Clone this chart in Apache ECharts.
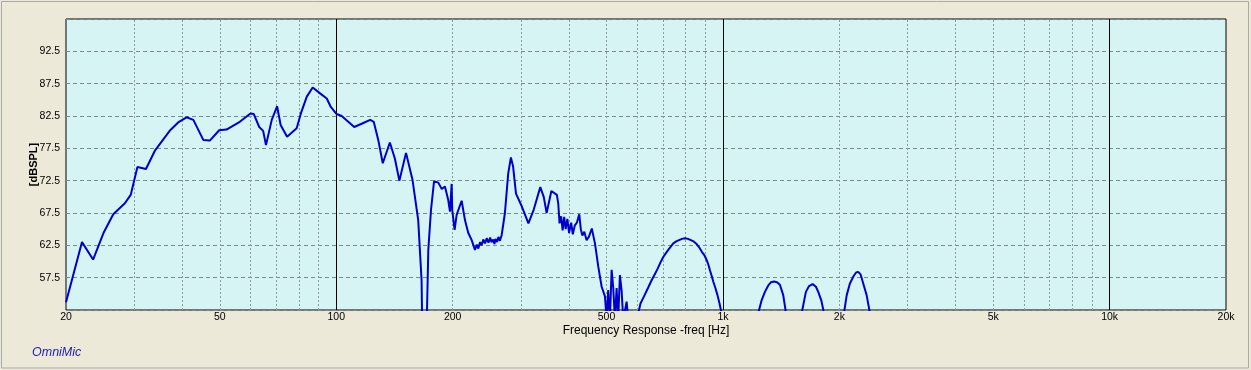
<!DOCTYPE html>
<html>
<head>
<meta charset="utf-8">
<script src="https://cdn.jsdelivr.net/npm/echarts@6/dist/echarts.min.js"></script>
<style>
html,body{margin:0;padding:0;background:#ece9d8;}
#c{width:1251px;height:370px;}
</style>
</head>
<body>
<div id="c"></div>
<script>
// ---- data ----
const freqHz = [
  20.0, 22.0, 23.5, 25.0, 26.5, 28.4, 29.4, 30.6, 32.2, 34.0,
  37.2, 39.0, 41.0, 42.7, 45.3, 47.1, 49.8, 52.0, 56.3, 60.0,
  61.2, 63.2, 64.7, 65.8, 68.1, 70.3, 71.8, 74.6, 79.0, 81.0,
  83.9, 86.9, 90.8, 94.5, 96.8, 100.2, 103.3, 106.5, 111.3, 116.3,
  122.4, 125.0, 128.4, 131.9, 137.6, 141.8, 145.6, 151.5, 157.5, 162.9,
  166.2, 167.3, 170.6, 173.0, 175.8, 179.0, 183.6, 187.4, 191.0, 194.8,
  196.8, 198.8, 199.5, 202.3, 204.8, 211.0, 215.2, 219.5, 224.0, 228.4,
  231.0, 233.0, 235.5, 237.7, 240.0, 242.5, 245.0, 247.5, 250.0, 252.0,
  254.6, 256.5, 258.0, 260.5, 262.6, 265.0, 267.8, 273.0, 278.4,
  282.9, 286.6, 291.6, 302.0, 314.0, 324.0, 337.0, 344.0, 350.0, 360.0,
  372.0, 375.0, 378.0, 381.5, 385.0, 388.5, 392.0, 396.0, 400.0, 405.0,
  409.0, 414.0, 419.0, 425.0, 429.0, 433.0, 438.0, 444.0, 450.0,
  458.0, 466.7, 476.0, 485.7, 495.3, 500.3, 505.0, 510.2, 515.4, 520.3,
  525.6, 530.9, 536.0, 541.4, 547.0, 552.3, 563.5, 568.9, 585.0,
  604, 612, 625, 640, 654, 666, 678, 690, 701, 712, 722, 733, 744, 757, 770, 784,
  798, 812, 826, 840, 855, 868, 882, 895, 908, 917, 926, 935, 944, 956, 968, 980, 992,
  1100,
  1234, 1259, 1284, 1310, 1332, 1355, 1380, 1404, 1432, 1456,
  1530,
  1598, 1639, 1670, 1706, 1740, 1764, 1796, 1826,
  1940,
  2056, 2090, 2130, 2180, 2210, 2238, 2270, 2306, 2353, 2400
];
const splDb = [
  53.7, 63.0, 60.3, 64.4, 67.3, 69.0, 70.3, 74.6, 74.3, 77.2,
  80.3, 81.5, 82.3, 81.9, 78.8, 78.7, 80.3, 80.4, 81.6, 82.9,
  82.8, 80.8, 80.2, 78.0, 81.9, 84.0, 81.1, 79.3, 80.6, 82.9,
  85.5, 86.9, 86.0, 85.2, 83.9, 82.8, 82.5, 81.8, 80.8, 81.3,
  81.9, 81.6, 78.8, 75.2, 78.4, 75.9, 72.5, 76.8, 72.6, 66.4,
  57.1, 45.0, 45.0, 61.8, 68.0, 72.4, 72.2, 71.2, 71.6, 69.5,
  67.7, 72.0, 68.0, 64.9, 67.2, 69.4, 66.4, 64.4, 63.3, 61.8,
  62.6, 62.0, 63.0, 62.5, 63.4, 62.8, 63.6, 62.9, 63.7, 63.0,
  63.4, 62.7, 63.5, 63.0, 63.8, 63.2, 64.1, 67.5, 73.6,
  76.1, 74.7, 70.5, 68.5, 65.9, 68.0, 71.5, 70.0, 67.5, 70.9,
  70.3, 69.0, 65.9, 67.0, 64.8, 66.9, 65.0, 66.6, 64.4, 66.0,
  64.2, 65.6, 66.0, 67.3, 65.0, 64.0, 64.6, 63.3, 63.8,
  65.1, 62.8, 59.2, 56.1, 54.6, 51.0, 55.6, 51.0, 58.7, 56.0,
  51.0, 55.9, 51.0, 57.9, 55.5, 51.0, 53.8, 51.0, 40.0,
  52.0, 53.5, 54.6, 55.9, 57.1, 58.0, 58.9, 59.9, 60.7, 61.3, 61.8, 62.3, 62.8, 63.1, 63.3, 63.5,
  63.6, 63.5, 63.3, 63.1, 62.7, 62.2, 61.5, 61.0, 60.2, 59.5, 58.6, 57.8, 56.9, 55.9, 54.8, 53.5, 52.0,
  40.0,
  52.0, 54.0, 55.3, 56.3, 56.8, 56.9, 56.8, 56.4, 54.8, 52.0,
  40.0,
  52.0, 55.3, 56.2, 56.5, 56.1, 55.3, 54.0, 52.0,
  40.0,
  52.0, 54.8, 56.6, 57.8, 58.3, 58.4, 58.0, 56.6, 54.8, 52.0
];
const xTickFreqs = [20, 50, 100, 200, 500, 1000, 2000, 5000, 10000, 20000];
const xTickLabels = ['20', '50', '100', '200', '500', '1k', '2k', '5k', '10k', '20k'];
const majorFreqs = [100, 1000, 10000];
const minorFreqs = [30, 40, 50, 60, 70, 80, 90,
  200, 300, 400, 500, 600, 700, 800, 900,
  2000, 3000, 4000, 5000, 6000, 7000, 8000, 9000];
const yMin = 52.5, yMax = 97.5, yStep = 5;

// ---- chart ----
const chart = echarts.init(document.getElementById('c'), null, {renderer: 'canvas'});
const curve = freqHz.map((f, i) => [f, splDb[i]]);
const font = '"Liberation Sans", Arial, sans-serif';

chart.setOption({
  animation: false,
  backgroundColor: '#ece9d8',
  graphic: [
    {type: 'rect', shape: {x: 1.5, y: 1.5, width: 1247, height: 366.5},
     style: {fill: 'none', stroke: '#a9a9a9', lineWidth: 1}, silent: true, z: 0},
    {type: 'text', left: 32, top: 346,
     style: {text: 'OmniMic', fill: '#1c1cb4', font: 'italic 12.5px ' + font}, silent: true}
  ],
  grid: {left: 66, right: 25, top: 19, bottom: 60, show: true,
         backgroundColor: '#d6f4f4', borderColor: '#000', borderWidth: 1, containLabel: false},
  xAxis: {
    type: 'log', logBase: 10, min: 20, max: 20000,
    name: 'Frequency Response -freq [Hz]', nameLocation: 'middle', nameGap: 15,
    nameMoveOverlap: false,
    nameTextStyle: {fontFamily: font, fontSize: 12, color: '#000'},
    axisLine: {show: false}, axisTick: {show: false}, axisLabel: {show: false},
    splitLine: {show: false}, minorSplitLine: {show: false}
  },
  yAxis: {
    type: 'value', min: yMin, max: yMax, interval: yStep,
    name: '[dBSPL]', nameLocation: 'middle', nameGap: 27, nameRotate: 90,
    nameMoveOverlap: false,
    nameTextStyle: {fontFamily: font, fontSize: 11, fontWeight: 'bold', color: '#000'},
    axisLine: {show: false}, axisTick: {show: false},
    axisLabel: {showMinLabel: false, showMaxLabel: false, margin: 6,
                fontFamily: font, fontSize: 10.5, color: '#000',
                formatter: v => v.toFixed(1)},
    splitLine: {show: true, lineStyle: {color: '#7d8a8a', type: [4, 3], width: 1}}
  },
  series: [
    {
      type: 'line', data: [], z: 1, silent: true,
      markLine: {
        silent: true, symbol: ['none', 'none'], animation: false, z: 1,
        label: {show: false},
        lineStyle: {color: '#8c9c9c', type: [2, 2], width: 1},
        data: minorFreqs.map(f => ({xAxis: f}))
      }
    },
    {
      type: 'line', data: [], z: 2, silent: true,
      markLine: {
        silent: true, symbol: ['none', 'none'], animation: false, z: 2,
        label: {show: false},
        lineStyle: {color: '#000', type: 'solid', width: 1},
        data: majorFreqs.map(f => ({xAxis: f}))
      }
    },
    {
      type: 'line', data: [], z: 2, silent: true,
      markLine: {
        silent: true, symbol: ['none', 'none'], animation: false, z: 2,
        lineStyle: {color: 'rgba(0,0,0,0)', width: 1},
        label: {show: true, position: 'start', distance: 2, formatter: '{b}',
                fontFamily: font, fontSize: 10.5, color: '#000'},
        data: xTickFreqs.map((f, i) => ({xAxis: f, name: xTickLabels[i]}))
      }
    },
    {
      type: 'line', data: curve, z: 5, showSymbol: false, symbol: 'none',
      clip: true, silent: true,
      lineStyle: {color: '#0000cc', width: 2}
    }
  ]
});
</script>
</body>
</html>
